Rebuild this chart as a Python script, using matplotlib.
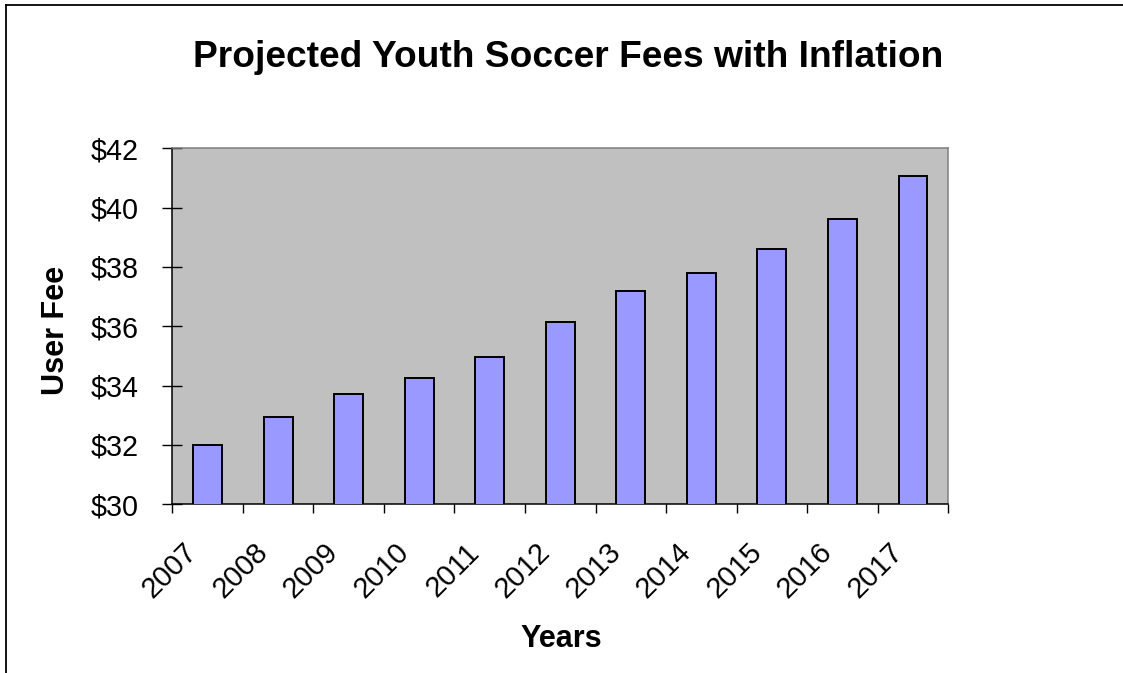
import numpy as np
import matplotlib
matplotlib.use("Agg")
import matplotlib.pyplot as plt
from matplotlib.lines import Line2D
from matplotlib.transforms import ScaledTranslation

plt.rcParams['font.family'] = ['Liberation Sans', 'DejaVu Sans']

# data
years = ['2007', '2008', '2009', '2010', '2011', '2012', '2013', '2014', '2015', '2016', '2017']
fees = [32.0, 32.93, 33.72, 34.27, 34.96, 36.15, 37.18, 37.81, 38.60, 39.63, 41.05]
yticks = [30, 32, 34, 36, 38, 40, 42]

W, H = 1123, 673
fig = plt.figure(figsize=(W / 100, H / 100), dpi=100)
fig.patch.set_facecolor('white')

# chart border (only left/top fall inside the image)
fig.add_artist(Line2D([6 / W, 1.0], [1 - 5 / H, 1 - 5 / H], color='black', lw=1.3, transform=fig.transFigure))
fig.add_artist(Line2D([6 / W, 6 / W], [0, 1 - 5 / H], color='black', lw=1.3, transform=fig.transFigure))

ax = fig.add_axes([172.3 / W, 168.7 / H, 776.0 / W, 356.0 / H])
ax.set_facecolor('#C0C0C0')

x = np.arange(len(years)) + 0.5
ax.bar(x, fees, width=0.41, color='#9999FF', edgecolor='black', linewidth=1.4, zorder=3)

ax.set_xlim(0, len(years))
ax.set_ylim(30, 42)

# y axis
ax.set_yticks(yticks)
ax.set_yticklabels(['$%d' % v for v in yticks], fontsize=20.7)
ax.tick_params(axis='y', direction='inout', length=13.7, width=1, color='black', pad=17.6)

# x axis: tick marks on category boundaries, labels at centres
ax.set_xticks(np.arange(len(years) + 1))
ax.set_xticklabels([])
ax.tick_params(axis='x', which='major', direction='out', length=6.8, width=1, color='black')
ax.set_xticks(x, minor=True)
ax.set_xticklabels(years, minor=True, fontsize=21, rotation=45,
                   ha='right', va='baseline', rotation_mode='anchor')
ax.tick_params(axis='x', which='minor', length=0, pad=35.5)
shift = ScaledTranslation(-9 / 100, 0, fig.dpi_scale_trans)
for lbl in ax.get_xticklabels(minor=True):
    lbl.set_transform(lbl.get_transform() + shift)

for side in ['left', 'bottom']:
    ax.spines[side].set_color('black')
    ax.spines[side].set_linewidth(1.1)
for side in ['top', 'right']:
    ax.spines[side].set_color('#808080')
    ax.spines[side].set_linewidth(1.1)

fig.text(568.5 / W, 1 - 67 / H, 'Projected Youth Soccer Fees with Inflation',
         fontsize=26.7, fontweight='bold', ha='center', va='baseline')
fig.text(561 / W, 1 - 647 / H, 'Years', fontsize=22, fontweight='bold',
         ha='center', va='baseline')
fig.text(64 / W, 1 - 330 / H, 'User Fee', fontsize=22, fontweight='bold',
         rotation=90, rotation_mode='anchor', ha='center', va='baseline')

fig.savefig('out.png', dpi=100)
